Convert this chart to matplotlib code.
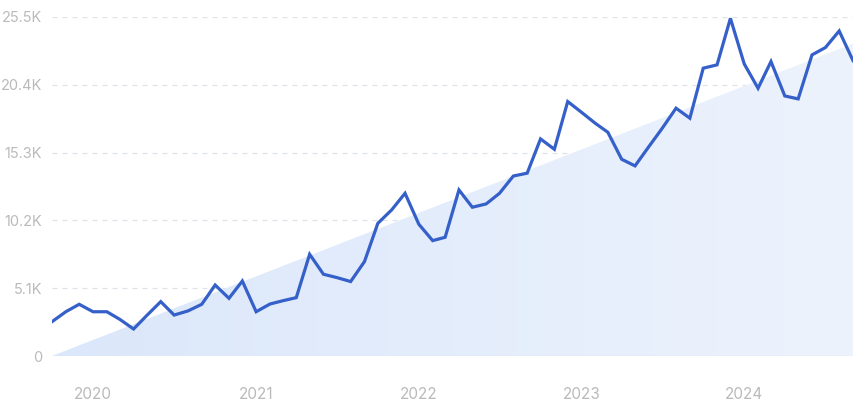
import numpy as np
import pandas as pd
import matplotlib
matplotlib.use("Agg")
import matplotlib.pyplot as plt
import matplotlib.dates as mdates
from matplotlib.colors import LinearSegmentedColormap

# monthly search volume (thousands), Oct 2019 - Sep 2024
months = pd.date_range("2019-10-01", periods=60, freq="MS")
volume = [2.58, 3.33, 3.89, 3.33, 3.33, 2.76, 2.03, 3.06, 4.09, 3.08,
          3.39, 3.89, 5.34, 4.34, 5.64, 3.33, 3.91, 4.15, 4.39, 7.65,
          6.15, 5.90, 5.60, 7.10, 9.98, 10.99, 12.24, 9.91, 8.68, 8.93,
          12.49, 11.19, 11.44, 12.24, 13.54, 13.75, 16.33, 15.55, 19.14, 18.33,
          17.50, 16.83, 14.80, 14.30, 15.75, 17.13, 18.64, 17.89, 21.65, 21.90,
          25.40, 21.97, 20.14, 22.15, 19.56, 19.34, 22.65, 23.20, 24.45, 22.22]
trend_start, trend_end = 0.0, 23.5
yticks = [0, 5.1, 10.2, 15.3, 20.4, 25.5]
ytick_labels = ["0", "5.1K", "10.2K", "15.3K", "20.4K", "25.5K"]
years = [2020, 2021, 2022, 2023, 2024]

plt.rcParams["font.family"] = ["Inter", "DejaVu Sans"]

fig = plt.figure(figsize=(8.6, 4), dpi=100)
ax = fig.add_axes([52 / 860, 44 / 400, 801 / 860, 339 / 400])

x = mdates.date2num(months)
x0, x1 = x[0], x[-1]

# trend area with a soft gradient
poly = ax.fill([x0, x1, x1], [trend_start, trend_end, 0], facecolor="none", edgecolor="none")[0]
cmap = LinearSegmentedColormap.from_list("bg", ["#dbe7fa", "#edf3fd"])
grad = np.linspace(0, 1, 256).reshape(1, -1)
im = ax.imshow(grad, extent=[x0, x1, 0, trend_end], aspect="auto", cmap=cmap,
               origin="lower", zorder=1)
im.set_clip_path(poly)

for t in yticks[1:]:
    ax.axhline(t, color="#dfe3e8", lw=0.9, ls=(0, (4, 4)), zorder=0)
ax.axhline(0, color="#dfe6f0", lw=1, zorder=2)

ax.plot(months, volume, color="#3560c9", lw=2.3, zorder=3,
        solid_joinstyle="miter")

ax.set_xlim(x0, x1)
ax.set_ylim(0, 25.5)
ax.set_yticks(yticks)
ax.set_yticklabels(ytick_labels)
ax.set_xticks([mdates.date2num(pd.Timestamp(f"{y}-01-01")) for y in years])
ax.set_xticklabels([str(y) for y in years])
ax.tick_params(length=0, labelsize=10.5, colors="#bababa")
ax.tick_params(axis="y", pad=7)
ax.tick_params(axis="x", pad=22, labelsize=11)
for s in ax.spines.values():
    s.set_visible(False)

fig.savefig("out.png", dpi=100)
